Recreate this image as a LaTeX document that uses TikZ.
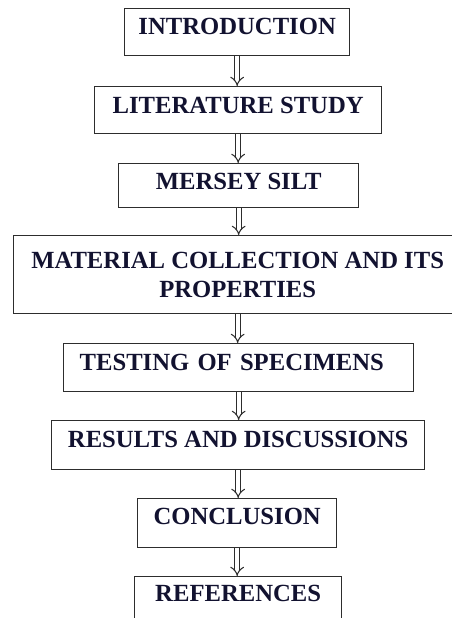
\documentclass[tikz,border=0pt]{standalone}
\usepackage{fontspec}
\setmainfont{Liberation Serif}
\usetikzlibrary{arrows.meta}
\definecolor{encre}{RGB}{18,18,48}
\definecolor{trait}{RGB}{45,45,45}

\begin{document}
\begin{tikzpicture}[x=0.75pt,y=-0.75pt,
  etape/.style={draw=trait, line width=1pt, inner sep=0pt, anchor=north west,
    text=encre, font=\fontsize{18.5}{21.75}\selectfont\bfseries},
  fleche/.style={draw=trait, line width=0.8pt, double=white, double distance=2.8pt,
    -{Implies}}]
\useasboundingbox (0,0) rectangle (452,618);
\clip (0,0) rectangle (452,618);
% les etapes
\node [etape, minimum width=168.75pt, text height=19.5pt, text depth=15.75pt] (intro) at (124,8) {INTRODUCTION};
\node [etape, minimum width=215.25pt, text height=20.25pt, text depth=15pt] (litt) at (94,86) {LITERATURE STUDY};
\node [etape, minimum width=180pt, text height=19.5pt, text depth=13.5pt] (silt) at (118,163) {MERSEY SILT};
\node [etape, minimum width=336pt, minimum height=58.5pt, align=center] (mat) at (13,235) {MATERIAL COLLECTION AND ITS\\PROPERTIES};
\node [etape, inner xsep=12pt, text width=238.5pt, align=left, text height=20.25pt, text depth=15.75pt] (test) at (63,343) {TESTING OF SPECIMENS};
\node [etape, minimum width=279.75pt, text height=20.25pt, text depth=16.5pt] (res) at (51,420) {RESULTS AND DISCUSSIONS};
\node [etape, minimum width=149.25pt, text height=19.5pt, text depth=17.25pt] (concl) at (137,498) {CONCLUSION};
\node [etape, minimum width=155.25pt, text height=18.75pt, text depth=18.75pt] (ref) at (134,576) {REFERENCES};
% les fleches
\draw [fleche] (intro.south) -- (intro.south |- litt.north);
\draw [fleche] (litt.south) -- (litt.south |- silt.north);
\draw [fleche] (silt.south) -- (silt.south |- mat.north);
\draw [fleche] (mat.south) -- (mat.south |- test.north);
\draw [fleche] (test.south) -- (test.south |- res.north);
\draw [fleche] (res.south) -- (res.south |- concl.north);
\draw [fleche] (concl.south) -- (concl.south |- ref.north);
\end{tikzpicture}
\end{document}
